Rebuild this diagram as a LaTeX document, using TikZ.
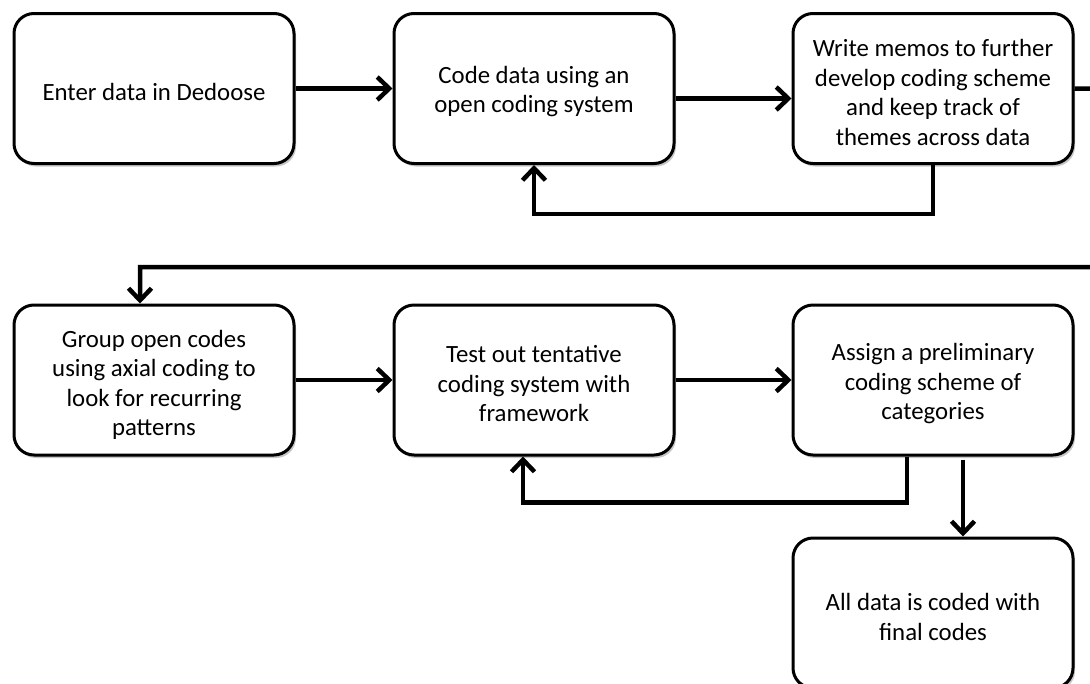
\documentclass[tikz,border=0pt]{standalone}
\usepackage{fontspec}
\setmainfont{Carlito}
\usetikzlibrary{arrows.meta,shadows}
\begin{document}
\begin{tikzpicture}[x=1pt,y=-1pt,
  stepbox/.style={draw=black, line width=3pt, rounded corners=20pt, fill=white,
    minimum width=280pt, minimum height=150pt, inner sep=0pt,
    drop shadow={shadow xshift=2pt, shadow yshift=-3pt, opacity=0.22, fill=black}},
  steptext/.style={align=center, inner sep=0pt, font=\fontsize{24.8}{29.5}\selectfont},
  link/.style={line width=4.5pt, -{Straight Barb[length=12pt,width=23pt]}}]
\useasboundingbox (0,0) rectangle (1090,683);
\clip (0,0) rectangle (1090,683);

% first row of steps
\node[stepbox] (b1) at (154,88.5) {};
\node[steptext] (t1) at ([yshift=-3pt]b1.center) {Enter data in Dedoose};
\node[stepbox] (b2) at (534,88.5) {};
\node[steptext] (t2) at ([yshift=-3pt]b2.center) {Code data using an\\open coding system};
\node[stepbox] (b3) at (933,88.5) {};
\node[steptext] (t3) at ([yshift=-4pt]b3.center) {Write memos to further\\develop coding scheme\\and keep track of\\themes across data};

% second row of steps
\node[stepbox] (b4) at (154,380) {};
\node[steptext] (t4) at ([yshift=-5pt]b4.center) {Group open codes\\using axial coding to\\look for recurring\\patterns};
\node[stepbox] (b5) at (534,380) {};
\node[steptext] (t5) at ([yshift=-4pt]b5.center) {Test out tentative\\coding system with\\framework};
\node[stepbox] (b6) at (933,380) {};
\node[steptext] (t6) at ([yshift=-4pt]b6.center) {Assign a preliminary\\coding scheme of\\categories};

% final step
\node[stepbox] (b7) at (933,613) {};
\node[steptext] (t7) at ([yshift=-4pt]b7.center) {All data is coded with\\final codes};

% turning points of the long return line
\coordinate (r1) at (1110,89);
\coordinate (r2) at (1110,267);
\coordinate (d4) at (140,267);

% connectors
\draw[link] (b1) -- (b2);
\draw[link] ([yshift=-10pt]b2.east) -- ([yshift=-10pt]b3.west);
\draw[link] (b3.south) -- ++(0,49) -| (b2.south);
\draw[link] (b3.east) -- (r1) -- (r2) -- (d4) -- (d4 |- b4.north);
\draw[link] (b4) -- (b5);
\draw[link] (b5) -- (b6);
\draw[link] ([xshift=-26pt]b6.south) -- ++(0,46) -| ([xshift=-11pt]b5.south);
\draw[link] ([xshift=30pt,yshift=-3pt]b6.south) -- ([xshift=30pt]b7.north);
\end{tikzpicture}
\end{document}
